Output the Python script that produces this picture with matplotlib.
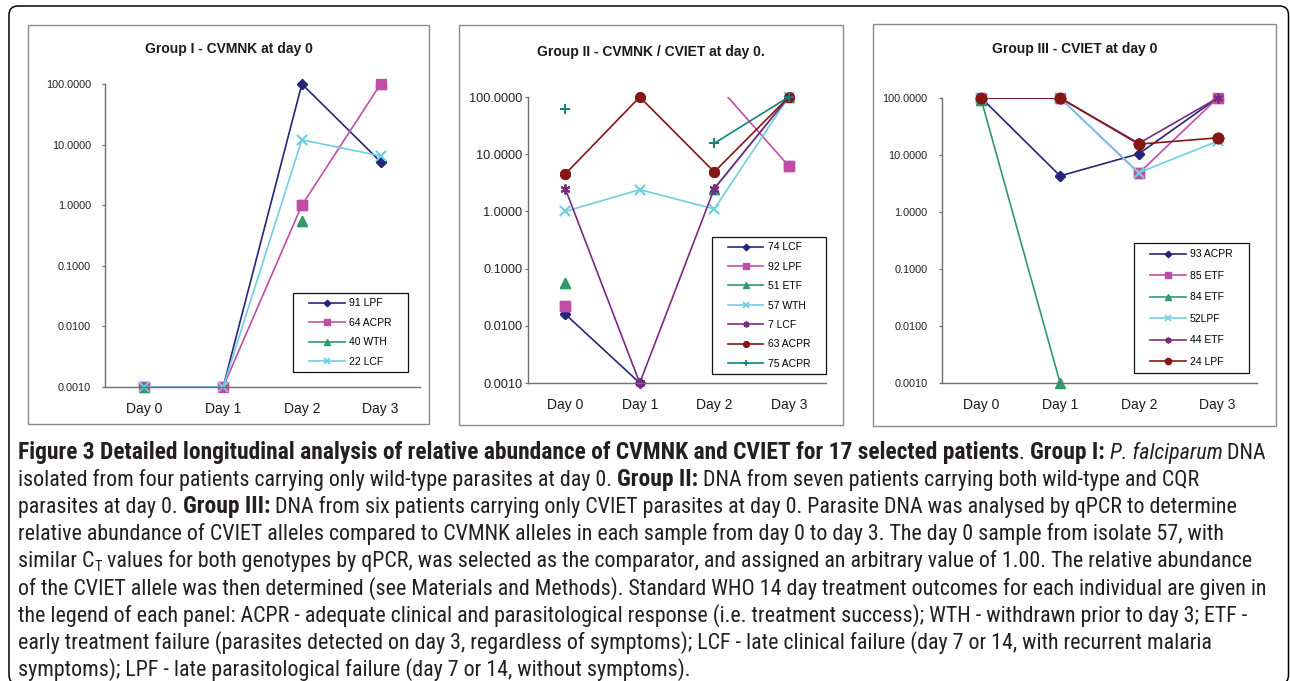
import matplotlib
matplotlib.use('Agg')
import matplotlib.pyplot as plt
import numpy as np
from matplotlib import font_manager
from matplotlib.font_manager import FontProperties
from matplotlib.patches import Rectangle, FancyBboxPatch
from matplotlib.transforms import IdentityTransform
from matplotlib.ticker import FixedLocator, FuncFormatter, NullLocator

nan = np.nan
days = ['Day 0', 'Day 1', 'Day 2', 'Day 3']

# Group I - CVMNK at day 0
g1_labels = ['91 LPF', '64 ACPR', '40 WTH', '22 LCF']
g1_91 = [0.001, 0.001, 100, 5.2]
g1_64 = [0.001, 0.001, 1.0, 100]
g1_40 = [0.001, nan, 0.55, nan]
g1_22 = [0.001, 0.001, 12, 6.5]

# Group II - CVMNK / CVIET at day 0
g2_labels = ['74 LCF', '92 LPF', '51 ETF', '57 WTH', '7 LCF', '63 ACPR', '75 ACPR']
g2_74 = [0.016, 0.001, nan, nan]
g2_92 = [0.022, nan, 186, 6.2]
g2_51 = [0.055, nan, 2.5, 100]
g2_57 = [1.0, 2.4, 1.1, 100]
g2_7 = [2.5, 0.001, 2.5, 100]
g2_63 = [4.5, 100, 4.9, 100]
g2_75 = [61, nan, 15.5, 100]

# Group III - CVIET at day 0
g3_labels = ['93 ACPR', '85 ETF', '84 ETF', '52LPF', '44 ETF', '24 LPF']
g3_93 = [100, 4.3, 10.5, 100]
g3_85 = [100, 100, 4.8, 100]
g3_84 = [92, 0.001, nan, nan]
g3_52 = [100, 100, 4.9, 17.5]
g3_44 = [100, 100, 16, 100]
g3_24 = [100, 100, 15.5, 20]

yticks = [0.001, 0.01, 0.1, 1, 10, 100]

NAVY, PINK, GREEN, CYAN = '#262678', '#c04ea6', '#2e9a6a', '#6fcfe0'
PURPLE, MAROON, TEAL = '#7b2a82', '#861616', '#13827f'
STAR = (6, 2, 0)
g1_styles = [(NAVY, 'D', 5.5), (PINK, 's', 7), (GREEN, '^', 6.5), (CYAN, 'x', 7)]
g2_styles = [(NAVY, 'D', 5.5), (PINK, 's', 7), (GREEN, '^', 6.5), (CYAN, 'x', 7),
             (PURPLE, STAR, 7), (MAROON, 'o', 7), (TEAL, '+', 7)]
g3_styles = [(NAVY, 'D', 5.5), (PINK, 's', 7), (GREEN, '^', 7.5), (CYAN, 'x', 7),
             (PURPLE, STAR, 7), (MAROON, 'o', 7.5)]

W, H = 1290, 681
plt.rcParams['font.family'] = ['Liberation Sans', 'DejaVu Sans']
fig = plt.figure(figsize=(W / 100, H / 100), dpi=100)


def fbox(x0, y0, x1, y1):
    return [x0 / W, 1 - y1 / H, (x1 - x0) / W, (y1 - y0) / H]


def panel(box, axbox, title, title_y, series, labels, styles, legbox, ytick_size, ytick_pad, legspace):
    bx = fbox(*box)
    fig.add_artist(Rectangle((bx[0], bx[1]), bx[2], bx[3], transform=fig.transFigure,
                             fill=False, edgecolor='#8a8a8a', lw=1.0))
    fig.text((box[0] + box[2]) / 2 / W, 1 - title_y / H, title, ha='center', va='center',
             fontsize=10, fontweight='bold', color='#1a1a1a')
    ax = fig.add_axes(fbox(*axbox))
    ax.patch.set_visible(False)
    x = np.arange(4)
    handles = []
    for vals, lab, (c, m, ms) in zip(series, labels, styles):
        v = np.array(vals, dtype=float)
        mew = 1.3 if m in ('x', '+', STAR) else 1.0
        h, = ax.plot(x, v, color=c, lw=1.2, marker=m, ms=ms, mec=c, mfc=c, mew=mew, label=lab)
        handles.append(h)
        # markers sitting on the axis limits stay whole
        vm = np.where(v <= 100.001, v, nan)
        ax.plot(x, vm, ls='none', marker=m, ms=ms, mec=c, mfc=c, mew=mew, clip_on=False)
    ax.set_yscale('log')
    ax.set_ylim(0.001, 100)
    ax.set_xlim(-0.5, 3.5)
    ax.yaxis.set_major_locator(FixedLocator(yticks))
    ax.yaxis.set_minor_locator(NullLocator())
    ax.yaxis.set_major_formatter(FuncFormatter(lambda v, p: f'{v:.4f}'))
    ax.set_xticks(x)
    ax.set_xticklabels(days)
    ax.tick_params(axis='x', length=0, labelsize=10, pad=11, colors='#1a1a1a')
    ax.tick_params(axis='y', length=2.5, width=0.9, labelsize=ytick_size, pad=ytick_pad,
                   color='#707070', labelcolor='#222222')
    for s in ('top', 'right'):
        ax.spines[s].set_visible(False)
    for s in ('left', 'bottom'):
        ax.spines[s].set_color('#707070')
        ax.spines[s].set_linewidth(1.0)
    lb = fbox(*legbox)
    fig.add_artist(Rectangle((lb[0], lb[1]), lb[2], lb[3], transform=fig.transFigure,
                             fill=False, edgecolor='#111111', lw=0.9))
    ax.legend(handles=handles, loc='center', bbox_to_anchor=(lb[0] + lb[2] / 2, lb[1] + lb[3] / 2),
              bbox_transform=fig.transFigure, frameon=False, fontsize=7.5, handlelength=3.4,
              handletextpad=0.4, labelspacing=legspace, markerscale=0.6, borderpad=0)
    return ax


panel((28, 25, 429, 424), (105, 84, 420, 387), 'Group I - CVMNK at day 0', 49,
      [g1_91, g1_64, g1_40, g1_22], g1_labels, g1_styles, (293, 293, 408, 372), 7.8, 7.5, 0.9)
panel((459, 25, 843, 425), (528, 97, 826, 383), 'Group II - CVMNK / CVIET at day 0.', 52,
      [g2_74, g2_92, g2_51, g2_57, g2_7, g2_63, g2_75], g2_labels, g2_styles,
      (712, 237, 826, 374), 9.2, 1.5, 0.9)
panel((873, 24, 1276, 426), (942, 98, 1257, 383), 'Group III - CVIET at day 0', 49,
      [g3_93, g3_85, g3_84, g3_52, g3_44, g3_24], g3_labels, g3_styles,
      (1134, 243, 1249, 373), 7.8, 8.0, 1.1)

# outer rounded frame
fig.add_artist(FancyBboxPatch((9, -3), 1279.5, 678, boxstyle='round,pad=0,rounding_size=9',
                              transform=IdentityTransform(), fill=False, edgecolor='black', lw=1.1))

# caption
names = {f.name for f in font_manager.fontManager.ttflist}
cap_family = 'Liberation Sans'
for cand in ['Liberation Sans Narrow', 'Noto Sans Condensed', 'Roboto Condensed',
             'Open Sans Condensed', 'Noto Sans', 'Liberation Sans']:
    if cand in names:
        cap_family = cand
        break

B = {'weight': 'bold'}
I = {'style': 'italic'}
N = {}
caption = [
    [('Figure 3 Detailed longitudinal analysis of relative abundance of CVMNK and CVIET for 17 selected patients', B),
     ('. ', N), ('Group I:', B), (' ', N), ('P. falciparum', I), (' DNA', N)],
    [('isolated from four patients carrying only wild-type parasites at day 0. ', N), ('Group II:', B),
     (' DNA from seven patients carrying both wild-type and CQR', N)],
    [('parasites at day 0. ', N), ('Group III:', B),
     (' DNA from six patients carrying only CVIET parasites at day 0. Parasite DNA was analysed by qPCR to determine', N)],
    [('relative abundance of CVIET alleles compared to CVMNK alleles in each sample from day 0 to day 3. The day 0 sample from isolate 57, with', N)],
    [('similar C', N), ('T', {'sub': True}),
     (' values for both genotypes by qPCR, was selected as the comparator, and assigned an arbitrary value of 1.00. The relative abundance', N)],
    [('of the CVIET allele was then determined (see Materials and Methods). Standard WHO 14 day treatment outcomes for each individual are given in', N)],
    [('the legend of each panel: ACPR - adequate clinical and parasitological response (i.e. treatment success); WTH - withdrawn prior to day 3; ETF -', N)],
    [('early treatment failure (parasites detected on day 3, regardless of symptoms); LCF - late clinical failure (day 7 or 14, with recurrent malaria', N)],
    [('symptoms); LPF - late parasitological failure (day 7 or 14, without symptoms).', N)],
]
# right end of each caption line in the reference, used to size the font
cap_ends = [1270, 1262, 1258, 1152, 1270, 1280, 1278, 1257, 734]

renderer = fig.canvas.get_renderer()


def fprops(kw, size, bsize):
    sz = bsize if kw.get('weight') == 'bold' else size
    if kw.get('sub'):
        sz *= 0.65
    return FontProperties(family=cap_family, size=sz,
                          weight=kw.get('weight', 'normal'), style=kw.get('style', 'normal'))


def advance(s, kw, size, bsize):
    fp = fprops(kw, size, bsize)
    w1 = renderer.get_text_width_height_descent('x' + s + 'x', fp, ismath=False)[0]
    w0 = renderer.get_text_width_height_descent('xx', fp, ismath=False)[0]
    return w1 - w0


def line_width(runs, size, bsize):
    return sum(advance(s, kw, size, bsize) for s, kw in runs)


x_left = 18
x_max = 1262
widths = [line_width(runs, 10, 10) for runs in caption[1:]]
fits = [10 * (end - x_left) / w for w, end in zip(widths, cap_ends[1:])]
cap_size = min(float(np.median(fits)), min(10 * (x_max - x_left) / w for w in widths))
# bold runs get their own size so the bold first line spans like the reference
rest = sum(advance(s, kw, cap_size, cap_size) for s, kw in caption[0] if kw.get('weight') != 'bold')
bold = sum(advance(s, kw, 10, 10) for s, kw in caption[0] if kw.get('weight') == 'bold')
bold_size = min(10 * (cap_ends[0] - x_left - rest) / bold, cap_size * 1.08)

y0, dy = 459, 27.1
for i, runs in enumerate(caption):
    x = x_left
    y = y0 + i * dy
    for s, kw in runs:
        fp = fprops(kw, cap_size, bold_size)
        yy = y + (4 if kw.get('sub') else 0)
        fig.text(x / W, 1 - yy / H, s, fontproperties=fp, va='baseline', ha='left', color='#231f20')
        x += advance(s, kw, cap_size, bold_size)

fig.savefig('out.png', dpi=100)
